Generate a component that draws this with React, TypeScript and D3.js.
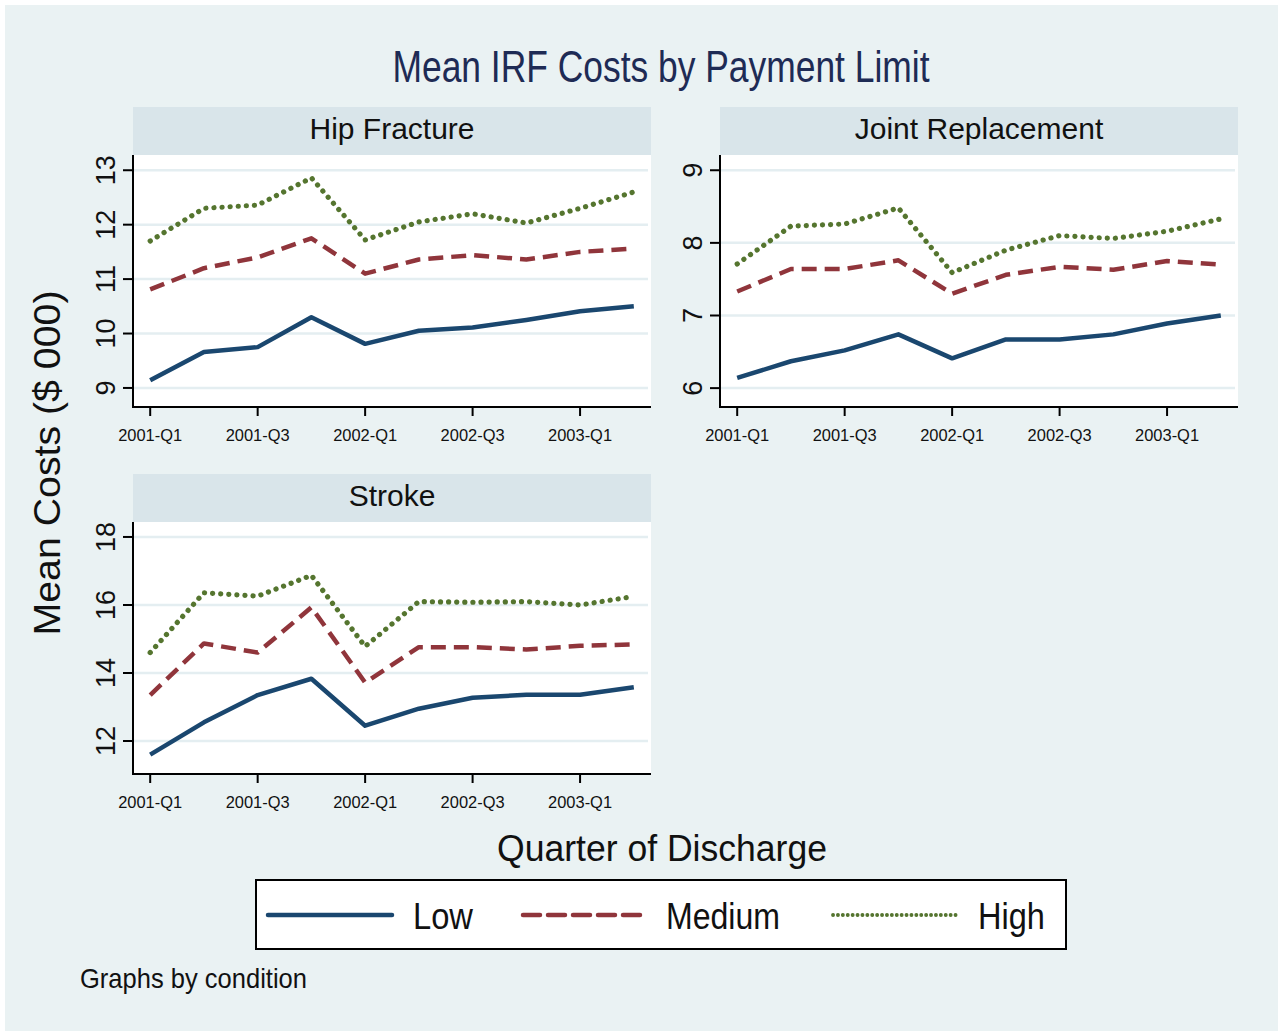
import { useEffect, useRef } from 'react';
import * as d3 from 'd3';

const quarters = [
  '2001-Q1', '2001-Q2', '2001-Q3', '2001-Q4',
  '2002-Q1', '2002-Q2', '2002-Q3', '2002-Q4',
  '2003-Q1', '2003-Q2',
];
const quarterTicks = ['2001-Q1', '2001-Q3', '2002-Q1', '2002-Q3', '2003-Q1'];
const limits = ['Low', 'Medium', 'High'];

// mean costs, $ 000
const hipLow = [9.14, 9.66, 9.75, 10.3, 9.81, 10.05, 10.11, 10.25, 10.41, 10.5];
const hipMedium = [10.81, 11.2, 11.4, 11.75, 11.1, 11.36, 11.44, 11.36, 11.5, 11.56];
const hipHigh = [11.7, 12.3, 12.36, 12.86, 11.72, 12.05, 12.2, 12.03, 12.3, 12.6];

const jointLow = [6.14, 6.37, 6.52, 6.74, 6.41, 6.67, 6.67, 6.74, 6.89, 7.0];
const jointMedium = [7.33, 7.64, 7.64, 7.76, 7.3, 7.56, 7.67, 7.63, 7.75, 7.7];
const jointHigh = [7.71, 8.23, 8.26, 8.48, 7.59, 7.9, 8.1, 8.06, 8.16, 8.33];

const strokeLow = [11.6, 12.55, 13.35, 13.83, 12.45, 12.95, 13.27, 13.36, 13.36, 13.58];
const strokeMedium = [13.35, 14.87, 14.6, 15.93, 13.72, 14.76, 14.76, 14.69, 14.8, 14.84];
const strokeHigh = [14.6, 16.36, 16.26, 16.87, 14.78, 16.1, 16.08, 16.1, 16.0, 16.25];

const hipTicks = [9, 10, 11, 12, 13];
const jointTicks = [6, 7, 8, 9];
const strokeTicks = [12, 14, 16, 18];

const hipDomain = [8.65, 13.28];
const jointDomain = [5.74, 9.21];
const strokeDomain = [11.03, 18.44];

const colors = { Low: '#1a476f', Medium: '#90353b', High: '#55752f' };
const dashes = { Low: null, Medium: '15 8', High: '0.1 8' };
const widths = { Low: 4.5, Medium: 4.5, High: 5.2 };
const legendDashes = { Low: null, Medium: '17 8', High: '0.1 4.8' };

const panels = [
  { title: 'Hip Fracture', series: [hipLow, hipMedium, hipHigh], ticks: hipTicks, domain: hipDomain, left: 133, top: 107 },
  { title: 'Joint Replacement', series: [jointLow, jointMedium, jointHigh], ticks: jointTicks, domain: jointDomain, left: 720, top: 107 },
  { title: 'Stroke', series: [strokeLow, strokeMedium, strokeHigh], ticks: strokeTicks, domain: strokeDomain, left: 133, top: 474 },
];

const W = 1283;
const H = 1036;
const panelW = 518;
const stripH = 48;
const plotH = 252;
const narrow = "'Liberation Sans Narrow', 'Liberation Sans', Arial, sans-serif";
const sans = "'Liberation Sans', Arial, sans-serif";

const App = () => {
  const svgRef = useRef(null);

  useEffect(() => {
    document.body.style.margin = '0';
    const svg = d3.select(svgRef.current);
    svg.selectAll('*').remove();

    svg.append('rect').attr('width', W).attr('height', H).attr('fill', '#ffffff');
    svg.append('rect')
      .attr('x', 5).attr('y', 5)
      .attr('width', W - 10).attr('height', H - 10)
      .attr('fill', '#eaf2f3');

    svg.append('text')
      .attr('x', 661).attr('y', 82)
      .attr('text-anchor', 'middle')
      .attr('font-family', narrow)
      .attr('font-size', 44)
      .attr('fill', '#1e2b55')
      .attr('textLength', 537)
      .attr('lengthAdjust', 'spacingAndGlyphs')
      .text('Mean IRF Costs by Payment Limit');

    panels.forEach((p) => {
      const g = svg.append('g');
      const plotTop = p.top + stripH;
      const plotBottom = plotTop + plotH;

      const x = d3.scalePoint()
        .domain(quarters)
        .range([p.left, p.left + panelW])
        .padding(0.32);

      const y = d3.scaleLinear()
        .domain(p.domain)
        .range([plotBottom, plotTop]);

      // strip
      g.append('rect')
        .attr('x', p.left).attr('y', p.top)
        .attr('width', panelW).attr('height', stripH)
        .attr('fill', '#d9e5ea');
      g.append('text')
        .attr('x', p.left + panelW / 2).attr('y', p.top + 32)
        .attr('text-anchor', 'middle')
        .attr('font-family', sans)
        .attr('font-size', 30)
        .attr('fill', '#111')
        .text(p.title);

      // plot region
      g.append('rect')
        .attr('x', p.left).attr('y', plotTop)
        .attr('width', panelW).attr('height', plotH)
        .attr('fill', '#ffffff');

      g.selectAll('.grid')
        .data(p.ticks)
        .enter().append('line')
        .attr('x1', p.left).attr('x2', p.left + panelW - 3)
        .attr('y1', (d) => y(d)).attr('y2', (d) => y(d))
        .attr('stroke', '#e4eef1')
        .attr('stroke-width', 2.5);

      // axes
      g.append('line')
        .attr('x1', p.left).attr('x2', p.left)
        .attr('y1', plotTop).attr('y2', plotBottom + 1)
        .attr('stroke', '#000').attr('stroke-width', 2);
      g.append('line')
        .attr('x1', p.left - 1).attr('x2', p.left + panelW)
        .attr('y1', plotBottom).attr('y2', plotBottom)
        .attr('stroke', '#000').attr('stroke-width', 2);

      g.selectAll('.ytick')
        .data(p.ticks)
        .enter().append('line')
        .attr('x1', p.left - 10).attr('x2', p.left)
        .attr('y1', (d) => y(d)).attr('y2', (d) => y(d))
        .attr('stroke', '#000').attr('stroke-width', 2);

      g.selectAll('.ylabel')
        .data(p.ticks)
        .enter().append('text')
        .attr('transform', (d) => `translate(${p.left - 18}, ${y(d)}) rotate(-90)`)
        .attr('text-anchor', 'middle')
        .attr('font-family', sans)
        .attr('font-size', 27)
        .attr('fill', '#111')
        .text((d) => d);

      g.selectAll('.xtick')
        .data(quarterTicks)
        .enter().append('line')
        .attr('x1', (d) => x(d)).attr('x2', (d) => x(d))
        .attr('y1', plotBottom).attr('y2', plotBottom + 9)
        .attr('stroke', '#000').attr('stroke-width', 2);

      g.selectAll('.xlabel')
        .data(quarterTicks)
        .enter().append('text')
        .attr('x', (d) => x(d)).attr('y', plotBottom + 34)
        .attr('text-anchor', 'middle')
        .attr('font-family', narrow)
        .attr('font-size', 17)
        .attr('fill', '#111')
        .attr('textLength', 64)
        .attr('lengthAdjust', 'spacingAndGlyphs')
        .text((d) => d);

      const line = d3.line()
        .x((_, i) => x(quarters[i]))
        .y((d) => y(d));

      g.selectAll('.series')
        .data(p.series)
        .enter().append('path')
        .attr('fill', 'none')
        .attr('stroke', (_, i) => colors[limits[i]])
        .attr('stroke-width', (_, i) => widths[limits[i]])
        .attr('stroke-linecap', (_, i) => i === 2 ? 'round' : 'butt')
        .attr('stroke-linejoin', 'round')
        .attr('stroke-dasharray', (_, i) => dashes[limits[i]])
        .attr('d', (d) => line(d));
    });

    // y axis title
    svg.append('text')
      .attr('transform', 'translate(60, 463) rotate(-90)')
      .attr('text-anchor', 'middle')
      .attr('font-family', sans)
      .attr('font-size', 36)
      .attr('fill', '#111')
      .attr('textLength', 345)
      .attr('lengthAdjust', 'spacingAndGlyphs')
      .text('Mean Costs ($ 000)');

    // x axis title
    svg.append('text')
      .attr('x', 662).attr('y', 861)
      .attr('text-anchor', 'middle')
      .attr('font-family', narrow)
      .attr('font-size', 37)
      .attr('fill', '#111')
      .attr('textLength', 330)
      .attr('lengthAdjust', 'spacingAndGlyphs')
      .text('Quarter of Discharge');

    // legend
    const legend = svg.append('g');
    legend.append('rect')
      .attr('x', 256).attr('y', 880)
      .attr('width', 810).attr('height', 69)
      .attr('fill', '#ffffff')
      .attr('stroke', '#000').attr('stroke-width', 2);

    const legendItems = [
      { key: 'Low', x1: 268, x2: 392, tx: 413, tw: 60 },
      { key: 'Medium', x1: 523, x2: 646, tx: 666, tw: 114 },
      { key: 'High', x1: 833, x2: 957, tx: 978, tw: 67 },
    ];
    legendItems.forEach((it) => {
      legend.append('line')
        .attr('x1', it.x1).attr('x2', it.x2)
        .attr('y1', 915).attr('y2', 915)
        .attr('stroke', colors[it.key])
        .attr('stroke-width', it.key === 'High' ? 3.8 : 4.5)
        .attr('stroke-linecap', 'round')
        .attr('stroke-dasharray', legendDashes[it.key]);
      legend.append('text')
        .attr('x', it.tx).attr('y', 929)
        .attr('font-family', narrow)
        .attr('font-size', 37)
        .attr('fill', '#111')
        .attr('textLength', it.tw)
        .attr('lengthAdjust', 'spacingAndGlyphs')
        .text(it.key);
    });

    svg.append('text')
      .attr('x', 80).attr('y', 988)
      .attr('font-family', narrow)
      .attr('font-size', 28)
      .attr('fill', '#111')
      .attr('textLength', 227)
      .attr('lengthAdjust', 'spacingAndGlyphs')
      .text('Graphs by condition');
  }, []);

  return (
    <div>
      <svg ref={svgRef} width={W} height={H} style={{ display: 'block' }} />
    </div>
  );
};

export default App;
